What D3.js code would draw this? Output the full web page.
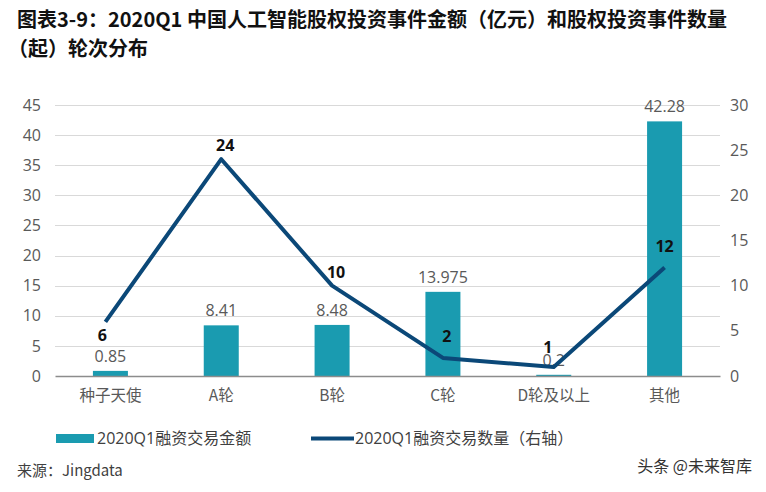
<!DOCTYPE html>
<html>
<head>
<meta charset="utf-8">
<script src="https://cdn.jsdelivr.net/npm/d3@7"></script>
<style>
body { margin: 0; background: #fff; }
text { font-family: "Open Sans", "Noto Sans CJK SC", sans-serif; }
</style>
</head>
<body>
<div id="chart"></div>
<script>
// data
var categories = ['种子天使', 'A轮', 'B轮', 'C轮', 'D轮及以上', '其他'];
var amounts = [0.85, 8.41, 8.48, 13.975, 0.2, 42.28];
var amountLabels = ['0.85', '8.41', '8.48', '13.975', '0.2', '42.28'];
var counts = [6, 24, 10, 2, 1, 12];
var leftTicks = [0, 5, 10, 15, 20, 25, 30, 35, 40, 45];
var rightTicks = [0, 5, 10, 15, 20, 25, 30];

var width = 766, height = 492;
var padding = { top: 105, right: 46, bottom: 116, left: 55 };
var barColor = '#1a9bb0';
var lineColor = '#0b4878';
var cjk = '"Noto Sans CJK SC", sans-serif';

var svg = d3.select('#chart').append('svg')
	.attr('width', width)
	.attr('height', height);

// title
svg.append('text')
	.attr('x', 17).attr('y', 27)
	.style('font-family', cjk).style('font-weight', 'bold').style('font-size', '20px')
	.attr('fill', '#111')
	.text('图表3-9：2020Q1 中国人工智能股权投资事件金额（亿元）和股权投资事件数量');
svg.append('text')
	.attr('x', 8).attr('y', 56)
	.style('font-family', cjk).style('font-weight', 'bold').style('font-size', '20px')
	.attr('fill', '#111')
	.text('（起）轮次分布');

var xScale = d3.scaleBand()
	.domain(categories)
	.range([padding.left, width - padding.right]);
var yLeft = d3.scaleLinear()
	.domain([0, 45])
	.range([height - padding.bottom, padding.top]);
var yRight = d3.scaleLinear()
	.domain([0, 30])
	.range([height - padding.bottom, padding.top]);

// grid
svg.append('g')
	.selectAll('line')
	.data(leftTicks.slice(1))
	.enter()
	.append('line')
	.attr('x1', padding.left).attr('x2', width - padding.right)
	.attr('y1', function(d){ return Math.round(yLeft(d)) + 0.5; })
	.attr('y2', function(d){ return Math.round(yLeft(d)) + 0.5; })
	.attr('stroke', '#d9d9d9');

var axisLeft = d3.axisLeft(yLeft).tickValues(leftTicks).tickSize(0).tickPadding(14);
var gl = svg.append('g')
	.attr('transform', 'translate(' + padding.left + ',0)')
	.call(axisLeft);
gl.select('.domain').remove();
gl.selectAll('text').style('font-size', '16px').attr('fill', '#595959');

var axisRight = d3.axisRight(yRight).tickValues(rightTicks).tickSize(0).tickPadding(10);
var gr = svg.append('g')
	.attr('transform', 'translate(' + (width - padding.right) + ',0)')
	.call(axisRight);
gr.select('.domain').remove();
gr.selectAll('text').style('font-size', '16px').attr('fill', '#595959');

// bars
var barW = 35;
svg.append('g')
	.selectAll('rect')
	.data(amounts)
	.enter()
	.append('rect')
	.attr('x', function(d, i){ return xScale(categories[i]) + xScale.bandwidth() / 2 - barW / 2; })
	.attr('y', function(d){ return yLeft(d); })
	.attr('width', barW)
	.attr('height', function(d){ return yLeft(0) - yLeft(d); })
	.attr('fill', barColor);

// x axis baseline
var axisBottom = d3.axisBottom(xScale).tickSize(0).tickPadding(14);
var gb = svg.append('g')
	.attr('transform', 'translate(0,' + yLeft(0) + ')')
	.call(axisBottom);
gb.select('.domain').attr('stroke', '#8c8c8c').attr('stroke-width', 1.5);
gb.selectAll('text').style('font-family', cjk).style('font-size', '15.5px').attr('fill', '#595959');

// bar labels
svg.append('g')
	.selectAll('text')
	.data(amounts)
	.enter()
	.append('text')
	.attr('x', function(d, i){ return xScale(categories[i]) + xScale.bandwidth() / 2; })
	.attr('y', function(d){ return yLeft(d) - 9; })
	.attr('text-anchor', 'middle')
	.style('font-size', '16px')
	.attr('fill', '#595959')
	.text(function(d, i){ return amountLabels[i]; });

// line
var linePath = d3.line()
	.x(function(d, i){ return xScale(categories[i]) + xScale.bandwidth() / 2 - (i == 0 ? 5 : 0); })
	.y(function(d){ return yRight(d); });
svg.append('path')
	.attr('d', linePath(counts))
	.attr('fill', 'none')
	.attr('stroke', lineColor)
	.attr('stroke-width', 4)
	.attr('stroke-linejoin', 'round');

// line labels
var labelDx = [-8, 4, 4, 4, -6, 0];
var labelDy = [19, -8, -8, -16, -14, -16];
svg.append('g')
	.selectAll('text')
	.data(counts)
	.enter()
	.append('text')
	.attr('x', function(d, i){ return xScale(categories[i]) + xScale.bandwidth() / 2 + labelDx[i]; })
	.attr('y', function(d, i){ return yRight(d) + labelDy[i]; })
	.attr('text-anchor', 'middle')
	.style('font-size', '16px').style('font-weight', 'bold')
	.attr('fill', '#111')
	.text(function(d){ return d; });

// legend
var lg = svg.append('g').attr('transform', 'translate(0,438)');
lg.append('rect').attr('x', 56).attr('y', -4).attr('width', 38).attr('height', 9).attr('fill', barColor);
lg.append('text').attr('x', 97).attr('y', 6)
	.style('font-size', '16px').attr('fill', '#404040')
	.text('2020Q1融资交易金额');
lg.append('line').attr('x1', 311).attr('x2', 354).attr('y1', 0.5).attr('y2', 0.5)
	.attr('stroke', lineColor).attr('stroke-width', 4);
lg.append('text').attr('x', 355).attr('y', 6)
	.style('font-size', '16px').attr('fill', '#404040')
	.text('2020Q1融资交易数量（右轴）');

// source + watermark
svg.append('text').attr('x', 17).attr('y', 476)
	.style('font-family', cjk).style('font-size', '15px').attr('fill', '#404040')
	.text('来源：Jingdata');
svg.append('text').attr('x', 752).attr('y', 472)
	.attr('text-anchor', 'end')
	.style('font-family', cjk).style('font-size', '16px').attr('fill', '#333')
	.text('头条 @未来智库');
</script>
</body>
</html>
